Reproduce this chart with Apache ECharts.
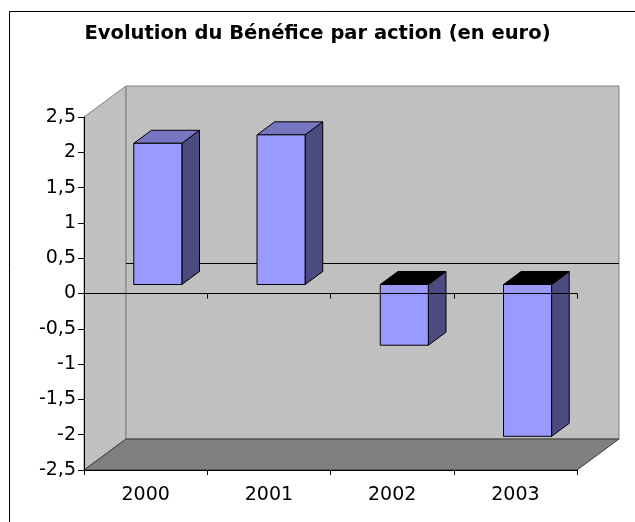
<!DOCTYPE html>
<html><head><meta charset="utf-8">
<script src="https://cdn.jsdelivr.net/npm/echarts@6/dist/echarts.min.js"></script>
<style>html,body{margin:0;padding:0;background:#fff}#c{width:635px;height:522px}</style>
</head><body><div id="c"></div>
<script>
// ---- data ----
const titleText = 'Evolution du Bénéfice par action (en euro)';
const years = ['2000', '2001', '2002', '2003'];
const eps = [2.00, 2.12, -0.86, -2.15];
const yMin = -2.5, yMax = 2.5, yStep = 0.5;

// ---- 3D look parameters ----
const DX = 42, DY = -31;          // depth vector of the plot box
const BAR_FRONT = 0.29, BAR_DEPTH = 0.42, BAR_W = 0.39;
const FONT = 'DejaVu Sans';

const chart = echarts.init(document.getElementById('c'), null, {renderer: 'canvas'});

function renderWalls(params, api) {
  const cs = params.coordSys;
  const x0 = cs.x, y0 = cs.y, x1 = cs.x + cs.width, y1 = cs.y + cs.height;
  const zeroY = api.coord([0, 0])[1];
  return {
    type: 'group',
    children: [
      {type: 'polygon', shape: {points: [[x0, y0], [x0 + DX, y0 + DY], [x0 + DX, y1 + DY], [x0, y1]]},
       style: {fill: '#c0c0c0', stroke: '#808080', lineWidth: 1}},
      {type: 'rect', shape: {x: x0 + DX, y: y0 + DY, width: cs.width, height: cs.height},
       style: {fill: '#c0c0c0', stroke: '#808080', lineWidth: 1}},
      {type: 'polygon', shape: {points: [[x0, y1], [x1, y1], [x1 + DX, y1 + DY], [x0 + DX, y1 + DY]]},
       style: {fill: '#808080', stroke: '#3a3a3a', lineWidth: 1}},
      {type: 'line', shape: {x1: x0 + DX, y1: Math.round(zeroY + DY) + 0.5, x2: x1 + DX, y2: Math.round(zeroY + DY) + 0.5},
       style: {stroke: '#000', lineWidth: 1}}
    ]
  };
}

function renderBar(params, api) {
  const i = api.value(0), v = api.value(1);
  const base = api.coord([i, 0]);
  const top = api.coord([i, v]);
  const bw = api.size([1, 0])[0] * BAR_W;
  const ox = DX * BAR_FRONT, oy = DY * BAR_FRONT;
  const dx = DX * BAR_DEPTH, dy = DY * BAR_DEPTH;
  const xa = base[0] - bw / 2 + ox, xb = xa + bw;
  const yA = Math.min(base[1], top[1]) + oy, yB = Math.max(base[1], top[1]) + oy;
  const topFill = v >= 0 ? '#7575c0' : '#000000';
  const st = {stroke: '#000', lineWidth: 1, lineJoin: 'round'};
  return {
    type: 'group',
    children: [
      {type: 'polygon', shape: {points: [[xb, yA], [xb + dx, yA + dy], [xb + dx, yB + dy], [xb, yB]]},
       style: Object.assign({fill: '#4b4b80'}, st)},
      {type: 'polygon', shape: {points: [[xa, yA], [xb, yA], [xb + dx, yA + dy], [xa + dx, yA + dy]]},
       style: Object.assign({fill: topFill}, st)},
      {type: 'rect', shape: {x: xa, y: yA, width: bw, height: yB - yA},
       style: Object.assign({fill: '#9999ff'}, st)}
    ]
  };
}

const fmt = v => String(Math.round(v * 10) / 10).replace('.', ',');

chart.setOption({
  animation: false,
  backgroundColor: '#ffffff',
  title: {
    text: titleText, left: 'center', top: 19,
    textStyle: {fontFamily: FONT, fontWeight: 'bold', fontSize: 19.5, color: '#000'}
  },
  graphic: [{
    type: 'rect', left: 7, top: 9, shape: {width: 700, height: 600},
    style: {fill: 'none', stroke: '#000', lineWidth: 1}, silent: true, z: 100
  }],
  grid: {left: 84, right: 58, top: 117, bottom: 52, containLabel: false},
  xAxis: [
    {
      type: 'category', data: years, position: 'bottom', z: 10,
      axisLine: {onZero: false, lineStyle: {color: '#000', width: 1}},
      axisTick: {show: true, length: 5, lineStyle: {color: '#000'}},
      axisLabel: {fontFamily: FONT, fontSize: 19, color: '#000', margin: 16},
      splitLine: {show: false}
    },
    {
      type: 'category', data: years, position: 'top', z: 10,
      axisLine: {onZero: true, lineStyle: {color: '#000', width: 1}},
      axisTick: {show: true, inside: true, length: 5, lineStyle: {color: '#000'}},
      axisLabel: {show: false},
      splitLine: {show: false}
    }
  ],
  yAxis: {
    type: 'value', min: yMin, max: yMax, interval: yStep, z: 10,
    axisLine: {show: true, lineStyle: {color: '#000', width: 1}},
    axisTick: {show: true, length: 6, lineStyle: {color: '#000'}},
    axisLabel: {fontFamily: FONT, fontSize: 19, color: '#000', margin: 8, formatter: fmt},
    splitLine: {show: false}
  },
  series: [
    {type: 'custom', name: 'walls', renderItem: renderWalls, data: [[0, 0]], clip: false, silent: true, z: 1},
    {type: 'custom', name: 'BPA', renderItem: renderBar, data: eps.map((v, i) => [i, v]), clip: false, z: 2}
  ]
});
</script></body></html>
